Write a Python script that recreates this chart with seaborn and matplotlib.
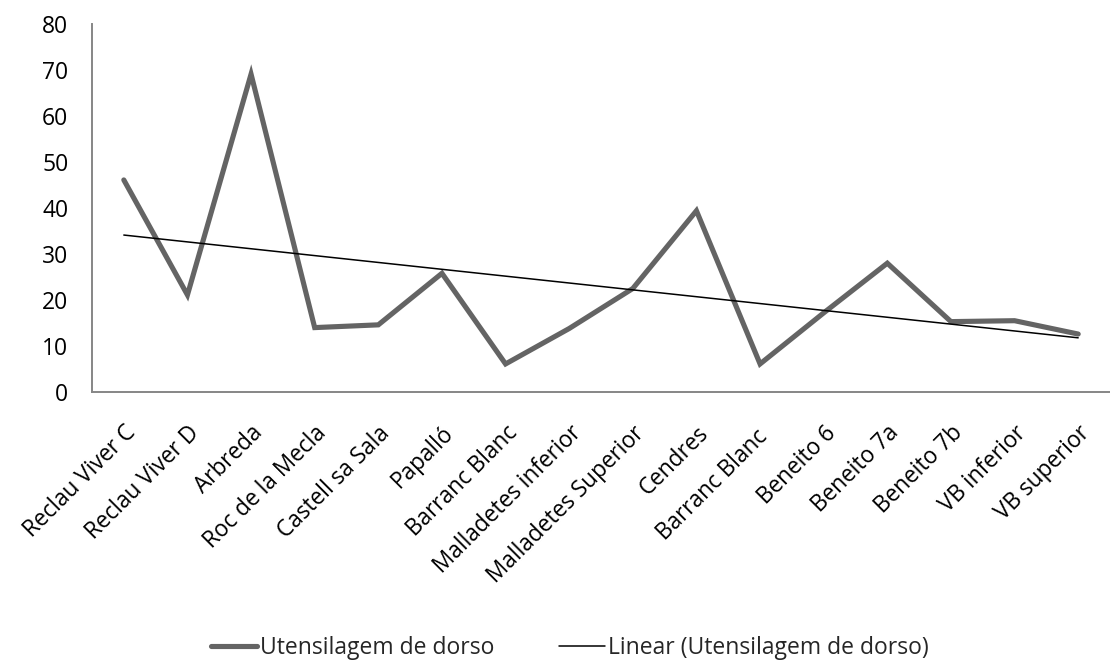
import numpy as np
import pandas as pd
import matplotlib
matplotlib.use("Agg")
import matplotlib.pyplot as plt
import seaborn as sns

sites = ["Reclau Viver C", "Reclau Viver D", "Arbreda", "Roc de la Mecla",
         "Castell sa Sala", "Papalló", "Barranc Blanc", "Malladetes inferior",
         "Malladetes Superior", "Cendres", "Barranc Blanc ", "Beneito 6",
         "Beneito 7a", "Beneito 7b", "VB inferior", "VB superior"]
dorso = [46.1, 21.1, 69.1, 14.0, 14.6, 25.8, 6.1, 13.8,
         22.5, 39.4, 6.1, 17.2, 28.0, 15.3, 15.5, 12.6]
yticks = [0, 10, 20, 30, 40, 50, 60, 70, 80]

series_name = "Utensilagem de dorso"
trend_name = "Linear (Utensilagem de dorso)"

sns.set_theme(style="white")
plt.rcParams["font.family"] = ["Open Sans", "DejaVu Sans"]

pos = np.arange(len(sites))
df = pd.DataFrame({"pos": pos, "valor": dorso})
# least-squares linear trend of the series
slope, intercept = np.polyfit(pos, np.array(dorso), 1)
df["tendencia"] = intercept + slope * pos

W, H = 1110, 662
fig = plt.figure(figsize=(W / 100, H / 100), dpi=100)
ax = fig.add_axes([92 / W, 1 - 392 / H, (W - 92) / W, (392 - 24) / H])

sns.lineplot(data=df, x="pos", y="valor", ax=ax, color="#646464", linewidth=3.7,
             label=series_name, solid_joinstyle="miter", solid_capstyle="round")
sns.lineplot(data=df, x="pos", y="tendencia", ax=ax,
             color="black", linewidth=1.1, label=trend_name)

ax.set_xlim(-0.5, len(sites) - 0.5)
ax.set_ylim(0, 80)
ax.set_yticks(yticks)
ax.set_yticklabels([str(t) for t in yticks], fontsize=16.5, color="black")
ax.set_xticks(pos)
ax.set_xticklabels(sites, rotation=45, ha="right", rotation_mode="anchor",
                   fontsize=16.3, color="black")
ax.tick_params(axis="x", length=0, pad=21)
ax.tick_params(axis="y", length=0, pad=17)
ax.set_xlabel("")
ax.set_ylabel("")

for side in ["top", "right"]:
    ax.spines[side].set_visible(False)
for side in ["left", "bottom"]:
    ax.spines[side].set_color("#868686")
    ax.spines[side].set_linewidth(1.4)

handles, labels = ax.get_legend_handles_labels()
ax.get_legend().remove()
fig.legend(handles, labels, loc="center", bbox_to_anchor=(570 / W, 1 - 648 / H),
           ncol=2, frameon=False, fontsize=16.5, handlelength=2.0,
           handletextpad=0.15, columnspacing=2.8)

fig.savefig("out.png", dpi=100)
